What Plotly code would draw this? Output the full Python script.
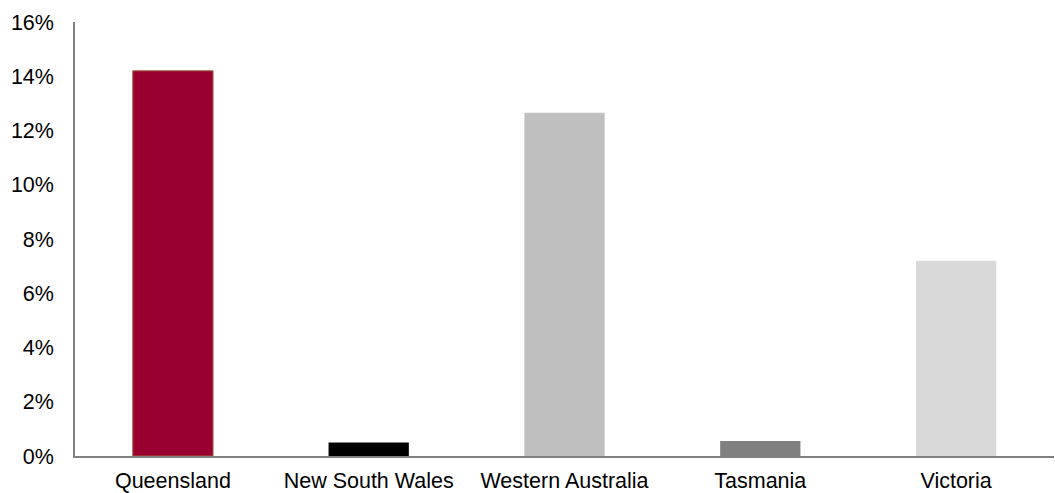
import plotly.graph_objects as go

# State-level shares
states = ["Queensland", "New South Wales", "Western Australia", "Tasmania", "Victoria"]
share_pct = [14.2, 0.5, 12.65, 0.55, 7.2]

bar_colors = ["#990030", "#000000", "#BFBFBF", "#808080", "#D9D9D9"]
edge_colors = ["#A0603A", "#000000", "#BFBFBF", "#808080", "#D9D9D9"]
edge_widths = [1, 0, 0, 0, 0]

y_ticks = [0, 2, 4, 6, 8, 10, 12, 14, 16]
y_tick_text = [f"{v}%" for v in y_ticks]

fig = go.Figure(
    go.Bar(
        x=states,
        y=share_pct,
        marker=dict(color=bar_colors, line=dict(color=edge_colors, width=edge_widths)),
        width=0.41,
        hoverinfo="x+y",
    )
)

font = dict(family="Liberation Sans, Arial, sans-serif", size=21.5, color="#000000")

fig.update_layout(
    width=1055,
    height=493,
    margin=dict(l=75, r=1, t=22, b=37),
    paper_bgcolor="white",
    plot_bgcolor="white",
    showlegend=False,
    font=font,
    xaxis=dict(
        showline=True,
        linecolor="#808080",
        linewidth=1.5,
        showgrid=False,
        ticks="",
        tickfont=font,
        ticklabelstandoff=4,
        automargin=False,
        range=[-0.5, 4.5],
    ),
    yaxis=dict(
        range=[0, 16],
        tickvals=y_ticks,
        ticktext=y_tick_text,
        showline=True,
        linecolor="#808080",
        linewidth=1.5,
        showgrid=False,
        zeroline=False,
        ticks="",
        tickfont=font,
        ticklabelstandoff=15,
        automargin=False,
    ),
)

fig.write_html("out.html")
